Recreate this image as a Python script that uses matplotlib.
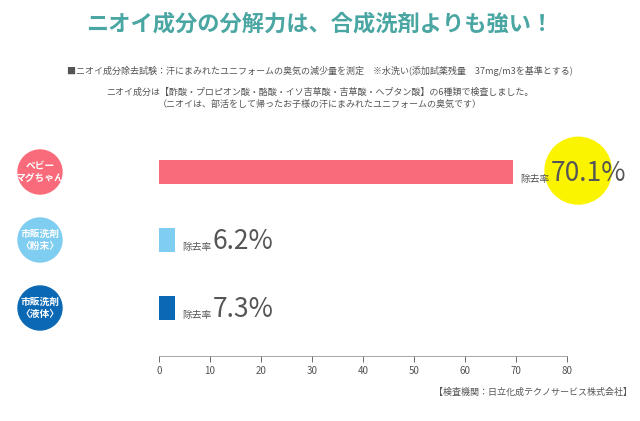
import matplotlib
matplotlib.use("Agg")
import matplotlib.pyplot as plt
from matplotlib.patches import Ellipse

plt.rcParams['font.family'] = ['Noto Sans CJK JP', 'DejaVu Sans']

categories = ["ベビー\nマグちゃん", "市販洗剤\n〈粉末〉", "市販洗剤\n〈液体〉"]
values = [70.1, 6.2, 7.3]           # labelled values
bar_lengths = [69.5, 3.2, 3.2]       # drawn bar lengths as in the picture
colors = ["#f96b7b", "#7fcdf0", "#0b68b4"]
ticks = [0, 10, 20, 30, 40, 50, 60, 70, 80]

W, H = 640, 421
fig = plt.figure(figsize=(6.4, 4.21), dpi=100)
ax = fig.add_axes([159/W, 1-356/H, (567-159)/W, (356-140)/H])
ypos = list(range(len(values)))
ax.barh(ypos, bar_lengths, height=0.35, color=colors)
ax.set_ylim(2.7, -0.47)
ax.set_xlim(0, 80)
ax.set_xticks(ticks)
ax.tick_params(axis='x', labelsize=7, colors='#555555', length=4, width=0.6)
ax.tick_params(axis='y', left=False, labelleft=False)
for s in ['top', 'right', 'left']:
    ax.spines[s].set_visible(False)
ax.spines['bottom'].set_color('#999999')
ax.spines['bottom'].set_linewidth(0.6)

for i, (v, b, c) in enumerate(zip(values, bar_lengths, colors)):
    if i == 0:
        ax.annotate("", (b, i), xytext=(0, 0), textcoords='offset points')
        ax.add_patch(Ellipse((b + 12.7, i - 0.02), 13.0, 0.98, color='#fbf400', zorder=1, clip_on=False))
    ax.annotate("除去率", (b, i + 0.17), xytext=(5, 0), textcoords='offset points',
                fontsize=7, color='#555555', va='bottom', ha='left')
    ax.annotate(f"{v}%", (b, i + 0.22), xytext=(27, 0), textcoords='offset points',
                fontsize=19, color='#555555', va='bottom', ha='left', zorder=3)
    cx, cy = 40, 172 + 68 * i
    fig.patches.append(Ellipse((cx/W, 1-cy/H), 44/W, 44/H, transform=fig.transFigure, color=c))
    fig.text(cx/W, 1-cy/H, categories[i], fontsize=7, color='white', ha='center', va='center',
             fontweight='bold', linespacing=1.3)

fig.text(0.5, 1-24/H, "ニオイ成分の分解力は、合成洗剤よりも強い！", fontsize=16, color='#4aa6a2',
         ha='center', va='center', fontweight='bold')
fig.text(0.5, 1-71/H, "■ニオイ成分除去試験：汗にまみれたユニフォームの臭気の減少量を測定　※水洗い(添加試薬残量　37mg/m3を基準とする)",
         fontsize=6.5, color='#555555', ha='center', va='center')
fig.text(0.5, 1-92/H, "ニオイ成分は【酢酸・プロピオン酸・酪酸・イソ吉草酸・吉草酸・ヘプタン酸】の6種類で検査しました。",
         fontsize=6.5, color='#555555', ha='center', va='center')
fig.text(0.5, 1-104/H, "（ニオイは、部活をして帰ったお子様の汗にまみれたユニフォームの臭気です）",
         fontsize=6.5, color='#555555', ha='center', va='center')
fig.text(632/W, 1-392/H, "【検査機関：日立化成テクノサービス株式会社】", fontsize=6.5, color='#555555',
         ha='right', va='center')
fig.savefig("out.png", dpi=100)
